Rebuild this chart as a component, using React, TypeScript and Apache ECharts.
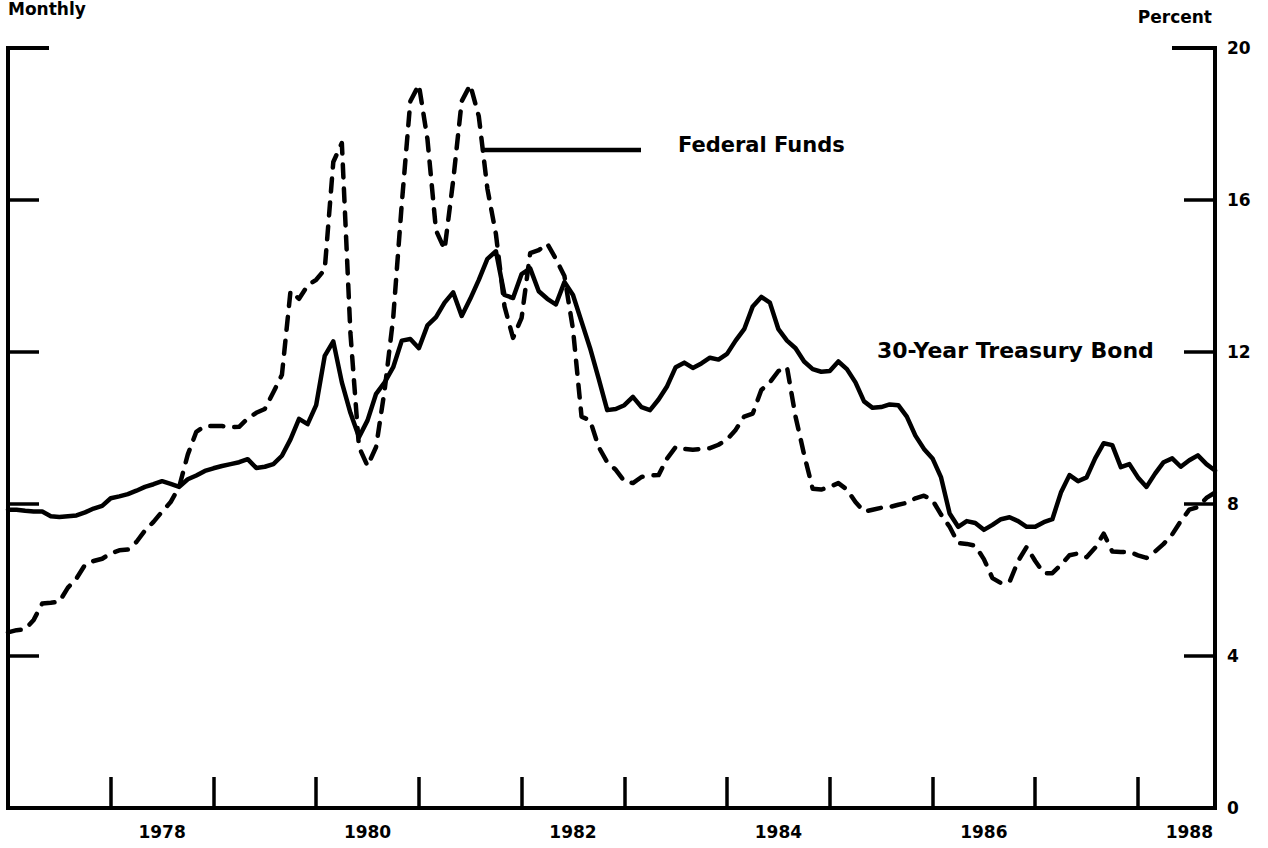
import React, { useEffect, useRef } from "react";
import * as echarts from "echarts";

// Months counted from January 1977 (index 0) to October 1988 (index 141)
const startYear = 1977;
const yearLabels = ["1978", "1980", "1982", "1984", "1986", "1988"];
const rightTicks = [0, 4, 8, 12, 16, 20];

// 30-Year Treasury Bond, monthly, percent
const treasuryBond = [
  7.85, 7.85, 7.82, 7.8, 7.8, 7.68, 7.66, 7.68, 7.7, 7.78, 7.88, 7.95,
  8.15, 8.2, 8.26, 8.35, 8.45, 8.52, 8.6, 8.53, 8.45, 8.65, 8.75, 8.87,
  8.94, 9.0, 9.05, 9.1, 9.18, 8.95, 8.98, 9.05, 9.27, 9.7, 10.24, 10.1,
  10.6, 11.9, 12.28, 11.2, 10.4, 9.76, 10.2, 10.9, 11.2, 11.6, 12.3, 12.34,
  12.1, 12.7, 12.92, 13.3, 13.57, 12.95, 13.4, 13.9, 14.45, 14.65, 13.5, 13.42,
  14.05, 14.2, 13.6, 13.4, 13.25, 13.84, 13.5, 12.8, 12.1, 11.3, 10.47, 10.5,
  10.6, 10.82, 10.55, 10.47, 10.75, 11.1, 11.6, 11.72, 11.58, 11.7, 11.85, 11.8,
  11.95, 12.3, 12.6, 13.2, 13.45, 13.3, 12.6, 12.3, 12.1, 11.75, 11.55, 11.48,
  11.5, 11.75, 11.55, 11.2, 10.7, 10.53, 10.55, 10.62, 10.6, 10.3, 9.8, 9.45,
  9.2, 8.7, 7.75, 7.4, 7.55, 7.5, 7.32, 7.45, 7.6, 7.65, 7.55, 7.4,
  7.4, 7.52, 7.6, 8.3, 8.76, 8.6, 8.7, 9.2, 9.6, 9.55, 8.97, 9.05,
  8.7, 8.45, 8.8, 9.1, 9.2, 8.98, 9.15, 9.28, 9.05, 8.88,
];

// Federal Funds rate, monthly, percent
const federalFunds = [
  4.62, 4.68, 4.7, 4.95, 5.38, 5.4, 5.43, 5.8, 6.04, 6.4, 6.5, 6.56,
  6.7, 6.78, 6.8, 7.0, 7.3, 7.53, 7.8, 8.05, 8.45, 9.3, 9.9, 10.05,
  10.05, 10.05, 10.02, 10.03, 10.25, 10.4, 10.5, 10.94, 11.4, 13.6, 13.4, 13.75,
  13.9, 14.17, 17.0, 17.5, 12.5, 9.5, 9.0, 9.5, 11.0, 12.9, 15.9, 18.6,
  19.03, 17.6, 15.2, 14.7, 16.5, 18.6, 19.03, 18.2, 16.3, 15.1, 13.2, 12.37,
  12.9, 14.6, 14.68, 14.85, 14.45, 14.0, 12.6, 10.3, 10.2, 9.5, 9.1, 8.9,
  8.6, 8.55, 8.71, 8.75, 8.76, 9.2, 9.5, 9.45, 9.43, 9.45, 9.47, 9.56,
  9.7, 9.95, 10.3, 10.38, 11.0, 11.2, 11.5, 11.6, 10.3, 9.3, 8.4, 8.38,
  8.45, 8.55, 8.38, 8.05, 7.8, 7.85, 7.9, 7.92, 7.98, 8.03, 8.15, 8.22,
  8.1, 7.72, 7.4, 6.97, 6.95, 6.9, 6.55, 6.05, 5.92, 5.95, 6.5, 6.87,
  6.5, 6.18, 6.18, 6.4, 6.65, 6.7, 6.6, 6.85, 7.22, 6.75, 6.74, 6.74,
  6.65, 6.58, 6.75, 6.95, 7.2, 7.55, 7.85, 7.92, 8.16, 8.3,
];

const FONT = '"DejaVu Sans", "Liberation Sans", Arial, sans-serif';

export default function App() {
  const ref = useRef<HTMLDivElement>(null);

  useEffect(() => {
    document.body.style.margin = "0";
    if (!ref.current) return;
    const chart = echarts.init(ref.current, undefined, { renderer: "svg" });
    const lastMonth = treasuryBond.length - 1;

    const axisLineStyle = { color: "#000", width: 4, cap: "square" };
    const tickStyle = { color: "#000", width: 3.5 };

    chart.setOption({
      animation: false,
      backgroundColor: "#fff",
      grid: { left: 8, right: 53, top: 48, bottom: 40, containLabel: false },
      xAxis: [
        {
          type: "value",
          min: 0,
          max: lastMonth,
          interval: 12,
          position: "bottom",
          axisLine: { show: true, onZero: false, lineStyle: axisLineStyle },
          axisTick: { show: true, inside: true, length: 31, lineStyle: tickStyle },
          axisLabel: { show: false },
          splitLine: { show: false },
        },
        {
          type: "value",
          min: 0,
          max: lastMonth,
          interval: 6,
          position: "bottom",
          axisLine: { show: false, onZero: false },
          axisTick: { show: false },
          splitLine: { show: false },
          axisLabel: {
            show: true,
            margin: 15,
            color: "#000",
            fontFamily: FONT,
            fontWeight: "bold",
            fontSize: 17,
            showMinLabel: false,
            showMaxLabel: false,
            formatter: (v: number) => {
              const y = String(startYear + Math.floor(v / 12));
              return v % 12 === 6 && yearLabels.includes(y) ? y : "";
            },
          },
        },
      ],
      yAxis: [
        {
          type: "value",
          min: 0,
          max: 20,
          interval: 4,
          position: "left",
          axisLine: { show: true, onZero: false, lineStyle: axisLineStyle },
          axisTick: { show: true, inside: true, length: 31, lineStyle: tickStyle },
          axisLabel: { show: false },
          splitLine: { show: false },
        },
        {
          type: "value",
          min: 0,
          max: 20,
          interval: 4,
          position: "right",
          axisLine: { show: true, onZero: false, lineStyle: axisLineStyle },
          axisTick: { show: true, inside: true, length: 31, lineStyle: tickStyle },
          axisLabel: {
            show: true,
            margin: 12,
            color: "#000",
            fontFamily: FONT,
            fontWeight: "bold",
            fontSize: 17,
            formatter: (v: number) => (rightTicks.includes(v) ? String(v) : ""),
          },
          splitLine: { show: false },
        },
      ],
      series: [
        {
          name: "30-Year Treasury Bond",
          type: "line",
          xAxisIndex: 0,
          yAxisIndex: 0,
          data: treasuryBond.map((v, i) => [i, v]),
          showSymbol: false,
          symbol: "none",
          lineStyle: { color: "#000", width: 4.5, cap: "round", join: "round" },
          z: 3,
        },
        {
          name: "Federal Funds",
          type: "line",
          xAxisIndex: 0,
          yAxisIndex: 0,
          data: federalFunds.map((v, i) => [i, v]),
          showSymbol: false,
          symbol: "none",
          lineStyle: { color: "#000", width: 4.5, type: [13, 11], cap: "round", join: "round" },
          z: 2,
        },
      ],
      graphic: [
        {
          type: "text",
          left: 8,
          top: 0,
          style: { text: "Monthly", fill: "#000", font: `bold 17px ${FONT}` },
        },
        {
          type: "text",
          x: 1212,
          y: 17,
          style: {
            text: "Percent",
            fill: "#000",
            font: `bold 17px ${FONT}`,
            align: "right",
            verticalAlign: "middle",
            textAlign: "right",
            textVerticalAlign: "middle",
          },
        },
        {
          type: "line",
          shape: { x1: 8, y1: 48, x2: 49, y2: 48 },
          style: { stroke: "#000", lineWidth: 4 },
        },
        {
          type: "line",
          shape: { x1: 1172, y1: 48, x2: 1215, y2: 48 },
          style: { stroke: "#000", lineWidth: 4 },
        },
        {
          type: "line",
          shape: { x1: 483, y1: 150, x2: 641, y2: 150 },
          style: { stroke: "#000", lineWidth: 4.5 },
        },
        {
          type: "text",
          x: 678,
          y: 145,
          style: {
            text: "Federal Funds",
            fill: "#000",
            font: `bold 21px ${FONT}`,
            verticalAlign: "middle",
            textVerticalAlign: "middle",
          },
        },
        {
          type: "text",
          x: 877,
          y: 350,
          style: {
            text: "30-Year Treasury Bond",
            fill: "#000",
            font: `bold 22px ${FONT}`,
            verticalAlign: "middle",
            textVerticalAlign: "middle",
          },
        },
      ],
    });

    return () => chart.dispose();
  }, []);

  return (
    <div
      ref={ref}
      style={{ position: "absolute", left: 0, top: 0, width: 1268, height: 848, background: "#fff" }}
    />
  );
}
